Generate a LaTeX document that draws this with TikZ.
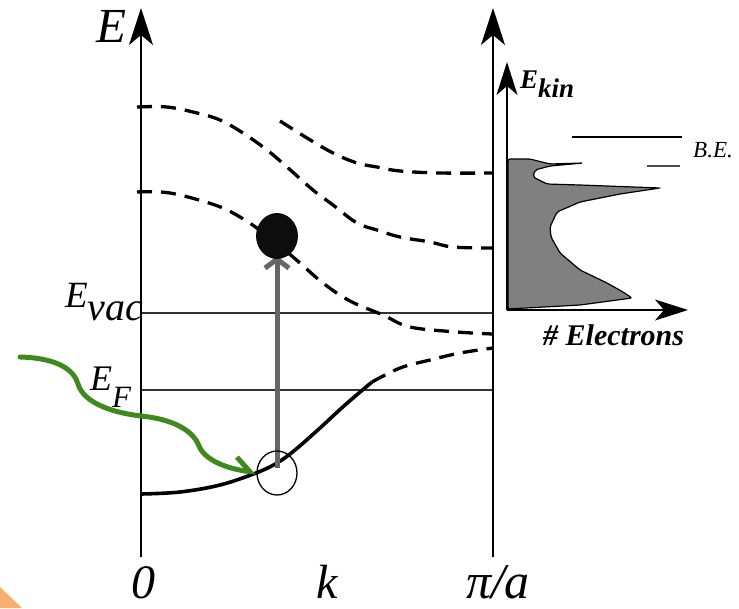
\documentclass[tikz,border=0pt]{standalone}
\usepackage{fontspec}
\setmainfont{Liberation Serif}
\usetikzlibrary{arrows.meta}
\definecolor{greenarrow}{RGB}{62,138,30}
\definecolor{orangecorner}{RGB}{249,174,107}
\begin{document}
\begin{tikzpicture}[x=1pt,y=-1pt,
  mainaxis/.style={line width=1.8pt,-{Stealth[length=37pt,width=24pt,inset=10pt]}},
  histaxis/.style={line width=1.8pt,-{Stealth[length=33pt,width=21pt,inset=9pt]}},
  level/.style={line width=1.7pt,draw=black!80},
  band/.style={line width=3.3pt,dash pattern=on 15pt off 9pt},
  lbl/.style={inner sep=0pt,font=\itshape},
  blbl/.style={inner sep=0pt,font=\bfseries\itshape},
]
\useasboundingbox (0,0) rectangle (739,608);
% orange corner
\fill[orangecorner] (0,587) -- (22,608) -- (0,608) -- cycle;

% coordinates
\coordinate (o) at (141,557);
\coordinate (otop) at (141,8);
\coordinate (r) at (493,557);
\coordinate (rtop) at (493,8);
\coordinate (vacL) at (141,313);
\coordinate (vacR) at (493,313);
\coordinate (fL) at (141,390);
\coordinate (fR) at (493,390);
\coordinate (hO) at (507,310);
\coordinate (hTop) at (507,62);
\coordinate (hRight) at (688,310);

% levels
\draw[level] (vacL) -- (vacR);
\draw[level] (fL) -- (fR);

% axes
\draw[mainaxis] (o) -- (otop);
\draw[mainaxis] (r) -- (rtop);

% bands
\draw[line width=3.6pt] plot[smooth,tension=0.6] coordinates {(141,494) (180,492) (220,485) (256,473) (277,463) (295,450) (320,428) (345,405) (372,382)};
\draw[band] plot[smooth,tension=0.6] coordinates {(372,382) (400,368) (430,360) (460,353) (493,348)};
\draw[band] plot[smooth,tension=0.6] coordinates {(137,192) (170,193) (215,205) (240,217) (265,234) (293,257) (323,283) (350,301) (383,315) (410,327) (457,332) (493,334)};
\draw[band] plot[smooth,tension=0.6] coordinates {(137,107) (167,107) (197,113) (220,120) (243,133) (267,150) (287,167) (313,190) (333,205) (357,223) (377,230) (400,237) (430,242) (453,247) (493,248)};
\draw[band] plot[smooth,tension=0.6] coordinates {(280,121) (307,138) (333,153) (357,163) (377,167) (400,171) (440,173) (493,173)};

% histogram
\draw[histaxis] (hO) -- (hTop);
\draw[histaxis] (hO) -- (hRight);
\filldraw[fill=black!50,draw=black,line width=1.2pt,rounded corners=2pt]
  (508,159) -- (530,159) -- (550,164) -- (583,163) -- (550,166) -- (535,170) -- (533,177)
  -- (547,184) -- (580,185) -- (660,188) -- (620,194) -- (580,202) -- (557,212)
  -- (550,227) -- (551,237) -- (560,253) -- (580,270) -- (607,283) -- (623,292)
  -- (632,298) -- (580,305) -- (508,309) -- cycle;

% binding energy marks
\coordinate (be1a) at (572,137);
\coordinate (be1b) at (682,137);
\coordinate (be2a) at (647,166);
\coordinate (be2b) at (680,166);
\draw[line width=1.4pt] (be1a) -- (be1b);
\draw[line width=1.8pt,black!70] (be2a) -- (be2b);

% excitation arrow and electron
\coordinate (hole) at (277,473);
\coordinate (ballc) at (277,236);
\coordinate (arrtop) at (277,256);
\draw[line width=5pt,black!60,-{Straight Barb[length=9pt,width=24pt]}] (277,468) -- (arrtop);
\filldraw[fill=black!95,draw=black,line width=0.8pt] (ballc) ellipse (20.5 and 22.5);
\draw[line width=1.3pt] (hole) ellipse (20 and 22);

% green arrow
\coordinate (gstart) at (20,357);
\coordinate (gtip) at (256,472);
\draw[greenarrow,line width=5pt,line cap=round,-{Straight Barb[left,length=14pt,width=26pt]}]
  (gstart) .. controls (58,358) and (74,370) .. (78,384)
  .. controls (84,404) and (115,413) .. (141,416)
  .. controls (172,419) and (193,430) .. (199,446)
  .. controls (206,463) and (235,470) .. (gtip);

% labels
\node[lbl,anchor=base east,font=\itshape\fontsize{49}{49}\selectfont] (lE) at (127,42) {E};
\node[lbl,anchor=base west,font=\itshape\fontsize{37}{37}\selectfont] (lvac) at (65,307) {E\raisebox{-13pt}{\fontsize{40}{40}\selectfont vac}};
\node[lbl,anchor=base west,font=\itshape\fontsize{36}{36}\selectfont] (lF) at (90,390) {E\raisebox{-17pt}{\fontsize{31}{31}\selectfont F}};
\node[lbl,anchor=base,font=\itshape\fontsize{48}{48}\selectfont] (l0) at (143,598) {0};
\node[lbl,anchor=base,font=\itshape\fontsize{48}{48}\selectfont] (lk) at (327,598) {k};
\node[lbl,anchor=base,font=\itshape\fontsize{50}{50}\selectfont] (lpi) at (498,598) {π/a};
\node[blbl,anchor=base west,font=\bfseries\itshape\fontsize{27}{27}\selectfont] (lkin) at (520,88) {E\raisebox{-9pt}{\fontsize{27}{27}\selectfont kin}};
\node[blbl,anchor=base west,font=\bfseries\itshape\fontsize{30}{30}\selectfont] (lel) at (543,345) {\# Electrons};
\node[lbl,anchor=base west,font=\itshape\fontsize{23}{23}\selectfont] (lbe) at (693,157) {B.E.};
\end{tikzpicture}
\end{document}
